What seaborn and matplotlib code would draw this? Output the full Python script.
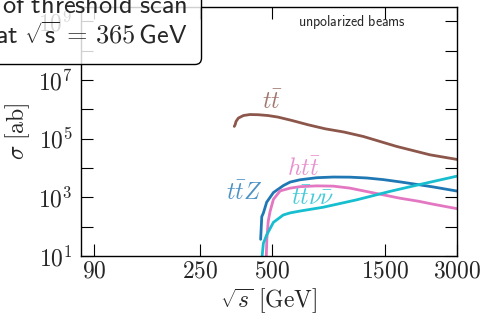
import numpy as np
import pandas as pd
import seaborn as sns
import matplotlib
matplotlib.use("Agg")
import matplotlib.pyplot as plt
from matplotlib.ticker import NullLocator, FixedLocator, FixedFormatter

# Cross sections [ab] versus centre-of-mass energy [GeV]
tt_sqrts = [348, 351, 354, 362, 380, 405, 439, 482, 531, 607, 710, 837, 1006, 1212, 1674, 2310, 3000]
tt_sigma = [2.6e5, 3.0e5, 3.85e5, 5.0e5, 6.1e5, 6.6e5, 6.5e5, 6.1e5, 5.4e5, 4.15e5, 2.96e5, 2.16e5,
            1.67e5, 1.18e5, 5.4e4, 2.8e4, 1.95e4]

ttz_sqrts = [449, 454, 461, 476, 508, 559, 597, 657, 773, 907, 1066, 1253, 1471, 1728, 2063, 2385, 3000]
ttz_sigma = [37, 220, 290, 680, 1450, 2500, 3300, 3950, 4650, 4900, 4850, 4550, 4000, 3350, 2700, 2250, 1630]

htt_sqrts = [474, 477, 483, 492, 508, 542, 597, 657, 773, 907, 1066, 1253, 1495, 1728, 2063, 2385, 3000]
htt_sigma = [9, 40, 150, 330, 850, 1650, 2050, 2300, 2450, 2400, 2050, 1570, 1180, 930, 736, 580, 410]

ttnn_sqrts = [455, 461, 476, 508, 559, 597, 657, 823, 1137, 1569, 2063, 3000]
ttnn_sigma = [9, 27, 52, 140, 250, 294, 340, 459, 820, 1590, 2660, 5250]

x_ticks = [90, 250, 500, 1500, 3000]
y_exponents = list(range(1, 10))

series = [
    ("tt", tt_sqrts, tt_sigma, "#8c564b", r"$t\bar{t}$", (501, 1.8e6)),
    ("ttZ", ttz_sqrts, ttz_sigma, "#1f77b4", r"$t\bar{t}Z$", (382, 1.4e3)),
    ("htt", htt_sqrts, htt_sigma, "#e377c2", r"$ht\bar{t}$", (683, 9.3e3)),
    ("ttnn", ttnn_sqrts, ttnn_sigma, "#17becf", r"$t\bar{t}\nu\bar{\nu}$", (745, 9.5e2)),
]

sns.set_theme(style="ticks")
plt.rcParams["mathtext.fontset"] = "cm"
plt.rcParams["font.family"] = ["DejaVu Sans"]

fig = plt.figure(figsize=(4.85, 3.2), dpi=100)
ax = fig.add_axes([81 / 485, 1 - 256 / 320, 376 / 485, 249.5 / 320])

for name, xs, ys, color, label, pos in series:
    df = pd.DataFrame({"sqrts": xs, "sigma": ys})
    sns.lineplot(data=df, x="sqrts", y="sigma", color=color, lw=2.0, ax=ax)
    ax.text(pos[0], pos[1], label, color=color, alpha=0.8, fontsize=17,
            ha="center", va="center")

ax.set_xscale("log")
ax.set_yscale("log")
ax.set_xlim(79, 3000)
ax.set_ylim(10, 10 ** 9.5)

ax.xaxis.set_major_locator(FixedLocator(x_ticks))
ax.xaxis.set_major_formatter(FixedFormatter([f"${v}$" for v in x_ticks]))
ax.xaxis.set_minor_locator(NullLocator())
ax.yaxis.set_major_locator(FixedLocator([10.0 ** k for k in y_exponents]))
ax.yaxis.set_major_formatter(FixedFormatter(
    [f"$10^{{{k}}}$" if k % 2 else "" for k in y_exponents]))
ax.yaxis.set_minor_locator(NullLocator())

ax.tick_params(axis="both", which="major", direction="in", length=8.5, width=0.8,
               top=True, right=True, labelsize=17, color="black")
ax.tick_params(axis="x", pad=2)
ax.tick_params(axis="y", pad=6)
for sp in ax.spines.values():
    sp.set_linewidth(1.0)
    sp.set_color("black")

ax.set_xlabel(r"$\sqrt{s}\ \mathrm{[GeV]}$", fontsize=17, labelpad=3)
ax.set_ylabel(r"$\sigma\ \mathrm{[ab]}$", fontsize=17, labelpad=4)

ax.text(0.72, 0.936, r"$\mathsf{unpolarized\ beams}$", transform=ax.transAxes,
        fontsize=10, ha="center", va="center")

fig.text(187 / 485, 1 - 44 / 320,
         "$\\mathsf{of\\ threshold\\ scan}$\n"
         "$\\mathsf{at}\\ \\sqrt{\\mathsf{s}}\\, = \\,\\mathsf{365\\,GeV}$",
         fontsize=19, ha="right", va="baseline", multialignment="right",
         linespacing=1.2,
         bbox=dict(boxstyle="round,pad=0.55,rounding_size=0.25",
                   facecolor=(1, 1, 1, 0.82), edgecolor="black", linewidth=1.0))

fig.savefig("out.png", dpi=100)
